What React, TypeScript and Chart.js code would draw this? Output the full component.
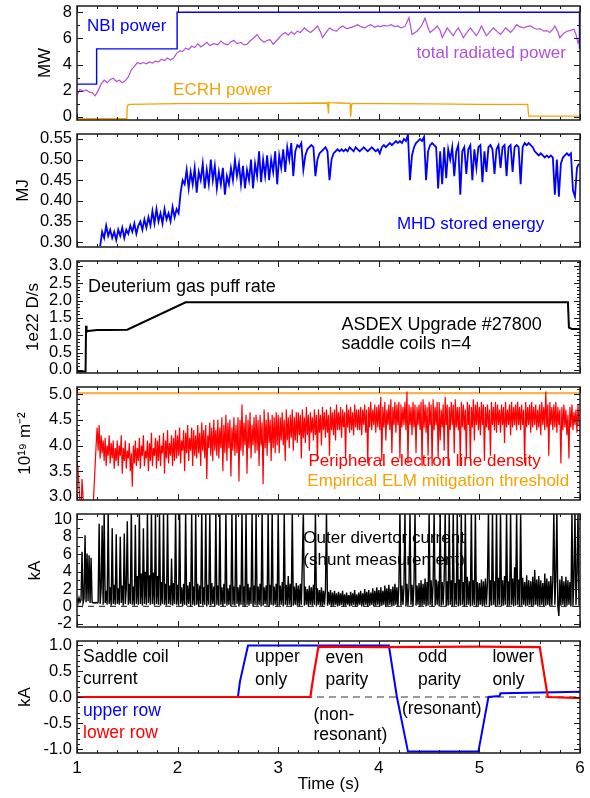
import React, { useEffect, useRef } from 'react';
import { Chart, registerables } from 'chart.js';

Chart.register(...registerables);

const FONT = '"Liberation Sans", Arial, Helvetica, sans-serif';
const BLUE = '#0000ff';
const PURPLE = '#b250d6';
const ORANGE = '#f5a300';
const RED = '#ff0000';
const THRESH = '#f6b452';
const BLACK = '#000000';
const GRAY = '#7a7a7a';

// ---------- shared time axis ----------
const TIME_MIN = 1;
const TIME_MAX = 6;
const timeTicks = [1, 2, 3, 4, 5, 6];
const ROW_START = 1.0; // dense signals: rows of 20 samples, 0.01 s apart
const SAMPLE_STEP = 0.01;
const ROW_LEN = 20;

// ---------- panel 1: heating & radiation (MW) ----------
const p1Ticks = [0, 2, 4, 6, 8];
const nbiTime = [1.0, 1.195, 1.195, 1.995, 1.995, 5.995, 5.995];
const nbiPower = [2.5, 2.5, 5.2, 5.2, 8.0, 8.0, 5.2];
const ecrhTime = [1.0, 1.495, 1.5, 1.52, 2.0, 2.5, 3.0, 3.49, 3.5, 3.505, 3.52, 3.6, 3.715, 3.72, 3.73, 3.74, 4.0, 4.5, 5.0, 5.48, 5.49, 6.0];
const ecrhPower = [-0.15, -0.15, 0.85, 0.95, 1.0, 1.0, 1.02, 1.05, 0.25, 1.1, 1.08, 1.05, 1.02, 0.0, 0.95, 1.0, 1.0, 0.98, 0.95, 0.95, 0.05, 0.05];
const pradSamples = [
  [1.0, 1.6], [1.03, 2.1], [1.06, 1.95], [1.09, 2.05], [1.12, 1.9], [1.15, 1.85], [1.18, 1.6], [1.21, 2.0], [1.24, 2.5], [1.27, 2.8],
  [1.3, 2.6], [1.33, 2.85], [1.36, 2.95], [1.39, 2.7], [1.42, 2.8], [1.45, 2.6], [1.48, 2.75], [1.51, 3.05], [1.54, 3.6], [1.57, 3.85],
  [1.6, 4.15], [1.63, 4.05], [1.66, 4.15], [1.69, 4.05], [1.72, 4.2], [1.75, 4.1], [1.78, 4.25], [1.81, 4.2], [1.84, 4.4], [1.87, 4.3],
  [1.9, 4.5], [1.93, 4.35], [1.96, 4.5], [1.99, 4.85], [2.02, 5.05], [2.05, 5.0], [2.08, 5.25], [2.11, 5.15], [2.14, 5.4], [2.17, 5.3],
  [2.2, 5.6], [2.23, 5.35], [2.26, 5.5], [2.29, 5.7], [2.32, 5.45], [2.36, 5.6], [2.4, 5.5], [2.43, 5.8], [2.46, 5.6], [2.5, 5.5],
  [2.53, 5.75], [2.56, 5.85], [2.59, 5.6], [2.63, 5.7], [2.66, 5.5], [2.69, 5.55], [2.72, 5.8], [2.76, 6.05], [2.79, 6.3], [2.82, 5.95],
  [2.86, 5.7], [2.89, 5.85], [2.92, 5.9], [2.95, 5.55], [2.98, 5.8], [3.01, 6.05], [3.04, 6.3], [3.07, 6.45], [3.1, 6.25], [3.13, 6.5],
  [3.16, 6.3], [3.19, 6.55], [3.22, 6.45], [3.26, 6.8], [3.29, 6.6], [3.32, 6.45], [3.36, 6.7], [3.39, 6.95], [3.42, 6.5], [3.44, 6.05],
  [3.48, 6.5], [3.51, 6.8], [3.55, 6.6], [3.58, 6.55], [3.61, 6.8], [3.64, 6.95], [3.68, 6.75], [3.71, 6.8], [3.75, 6.9], [3.79, 7.05],
  [3.82, 6.9], [3.86, 6.8], [3.89, 6.95], [3.92, 7.05], [3.96, 6.85], [3.99, 6.95], [4.02, 6.9], [4.05, 7.0], [4.09, 6.95], [4.12, 7.05],
  [4.16, 6.9], [4.19, 6.95], [4.22, 6.8], [4.26, 6.9], [4.3, 7.6], [4.33, 6.3], [4.36, 6.45], [4.38, 6.55], [4.42, 6.9], [4.46, 7.55],
  [4.49, 6.8], [4.51, 6.45], [4.55, 6.7], [4.58, 6.95], [4.61, 6.6], [4.63, 6.05], [4.66, 6.5], [4.68, 6.8], [4.71, 6.5], [4.74, 6.2],
  [4.77, 6.6], [4.79, 6.8], [4.82, 6.4], [4.84, 6.05], [4.88, 6.5], [4.91, 6.8], [4.94, 6.5], [4.97, 6.2], [5.0, 6.6], [5.02, 6.95],
  [5.05, 6.5], [5.07, 6.2], [5.11, 6.55], [5.14, 6.8], [5.18, 6.5], [5.21, 6.3], [5.24, 6.6], [5.26, 6.8], [5.29, 6.6], [5.31, 6.45],
  [5.34, 6.7], [5.37, 7.05], [5.4, 6.9], [5.44, 6.8], [5.47, 6.9], [5.51, 6.95], [5.54, 6.8], [5.57, 6.7], [5.6, 6.75], [5.64, 6.55],
  [5.67, 6.6], [5.7, 6.45], [5.73, 6.7], [5.75, 6.95], [5.78, 6.5], [5.8, 6.05], [5.84, 6.4], [5.87, 6.55], [5.9, 6.6], [5.94, 6.7],
  [5.96, 6.3], [5.98, 5.65], [6.0, 6.05],
];

// ---------- panel 2: MHD stored energy (MJ) ----------
const p2Ticks = [0.3, 0.35, 0.4, 0.45, 0.5, 0.55];
const mhdSamples = [
  [1.23, 0.29], [1.25, 0.325], [1.27, 0.31], [1.29, 0.34], [1.31, 0.315], [1.33, 0.33], [1.35, 0.31], [1.37, 0.325], [1.39, 0.305], [1.41, 0.33],
  [1.43, 0.315], [1.45, 0.335], [1.47, 0.31], [1.49, 0.33], [1.51, 0.32], [1.53, 0.34], [1.55, 0.325], [1.57, 0.345], [1.59, 0.32], [1.61, 0.34],
  [1.63, 0.35], [1.65, 0.33], [1.67, 0.355], [1.69, 0.335], [1.71, 0.36], [1.73, 0.34], [1.75, 0.375], [1.77, 0.345], [1.79, 0.38], [1.81, 0.35],
  [1.83, 0.37], [1.85, 0.345], [1.87, 0.38], [1.89, 0.355], [1.91, 0.37], [1.93, 0.35], [1.95, 0.385], [1.97, 0.36], [1.99, 0.38], [2.01, 0.37],
  [2.03, 0.42], [2.05, 0.45], [2.07, 0.44], [2.09, 0.475], [2.11, 0.43], [2.13, 0.47], [2.15, 0.44], [2.17, 0.48], [2.19, 0.42], [2.21, 0.47],
  [2.23, 0.45], [2.25, 0.49], [2.27, 0.43], [2.29, 0.475], [2.31, 0.44], [2.33, 0.5], [2.35, 0.45], [2.37, 0.485], [2.39, 0.43], [2.41, 0.47],
  [2.43, 0.44], [2.45, 0.48], [2.47, 0.415], [2.49, 0.46], [2.51, 0.44], [2.53, 0.48], [2.55, 0.45], [2.57, 0.5], [2.59, 0.46], [2.61, 0.49],
  [2.63, 0.44], [2.65, 0.485], [2.67, 0.43], [2.69, 0.475], [2.71, 0.45], [2.73, 0.5], [2.75, 0.43], [2.77, 0.49], [2.79, 0.46], [2.81, 0.52],
  [2.83, 0.445], [2.85, 0.5], [2.87, 0.46], [2.89, 0.51], [2.91, 0.45], [2.93, 0.5], [2.95, 0.47], [2.97, 0.52], [2.99, 0.44], [3.01, 0.51],
  [3.03, 0.48], [3.05, 0.525], [3.07, 0.47], [3.09, 0.53], [3.11, 0.5], [3.13, 0.54], [3.15, 0.46], [3.17, 0.52], [3.19, 0.535], [3.21, 0.53],
  [3.23, 0.54], [3.25, 0.475], [3.27, 0.51], [3.29, 0.525], [3.31, 0.53], [3.33, 0.535], [3.35, 0.53], [3.37, 0.46], [3.39, 0.5], [3.41, 0.515],
  [3.43, 0.52], [3.45, 0.525], [3.47, 0.53], [3.49, 0.52], [3.51, 0.45], [3.53, 0.5], [3.55, 0.515], [3.57, 0.52], [3.59, 0.525], [3.61, 0.52],
  [3.63, 0.525], [3.65, 0.52], [3.67, 0.525], [3.69, 0.52], [3.71, 0.53], [3.73, 0.525], [3.75, 0.52], [3.77, 0.53], [3.79, 0.525], [3.81, 0.52],
  [3.83, 0.525], [3.85, 0.53], [3.87, 0.525], [3.89, 0.52], [3.91, 0.525], [3.93, 0.53], [3.95, 0.525], [3.97, 0.52], [3.99, 0.525], [4.01, 0.515],
  [4.03, 0.53], [4.05, 0.535], [4.07, 0.53], [4.09, 0.535], [4.11, 0.54], [4.13, 0.535], [4.15, 0.54], [4.17, 0.545], [4.19, 0.54], [4.21, 0.545],
  [4.23, 0.54], [4.25, 0.55], [4.27, 0.545], [4.29, 0.56], [4.31, 0.45], [4.33, 0.51], [4.35, 0.53], [4.37, 0.54], [4.39, 0.545], [4.41, 0.55],
  [4.43, 0.545], [4.45, 0.555], [4.47, 0.45], [4.49, 0.52], [4.51, 0.535], [4.53, 0.54], [4.55, 0.535], [4.57, 0.53], [4.59, 0.43], [4.61, 0.52],
  [4.63, 0.44], [4.65, 0.53], [4.67, 0.455], [4.69, 0.525], [4.71, 0.5], [4.73, 0.53], [4.75, 0.46], [4.77, 0.52], [4.79, 0.535], [4.81, 0.415],
  [4.83, 0.52], [4.85, 0.53], [4.87, 0.465], [4.89, 0.525], [4.91, 0.535], [4.93, 0.45], [4.95, 0.525], [4.97, 0.48], [4.99, 0.53], [5.01, 0.535],
  [5.03, 0.445], [5.05, 0.52], [5.07, 0.47], [5.09, 0.53], [5.11, 0.535], [5.13, 0.525], [5.15, 0.465], [5.17, 0.525], [5.19, 0.535], [5.21, 0.48],
  [5.23, 0.53], [5.25, 0.535], [5.27, 0.46], [5.29, 0.53], [5.31, 0.535], [5.33, 0.47], [5.35, 0.53], [5.37, 0.535], [5.39, 0.53], [5.41, 0.44],
  [5.43, 0.53], [5.45, 0.54], [5.47, 0.535], [5.49, 0.54], [5.51, 0.535], [5.53, 0.53], [5.55, 0.52], [5.57, 0.515], [5.59, 0.51], [5.61, 0.515],
  [5.63, 0.51], [5.65, 0.505], [5.67, 0.51], [5.69, 0.505], [5.71, 0.51], [5.73, 0.505], [5.75, 0.415], [5.77, 0.5], [5.79, 0.41], [5.81, 0.49],
  [5.83, 0.505], [5.85, 0.51], [5.87, 0.515], [5.89, 0.51], [5.91, 0.515], [5.93, 0.425], [5.95, 0.41], [5.97, 0.48], [5.99, 0.49],
];

// ---------- panel 3: gas puff (1e22 D/s) ----------
const p3Ticks = [0, 0.5, 1.0, 1.5, 2.0, 2.5, 3.0];
const gasTime = [1.0, 1.085, 1.09, 1.095, 1.11, 1.2, 1.3, 1.5, 2.08, 3.0, 4.0, 5.0, 5.88, 5.89, 5.92, 6.0];
const gasRate = [-0.05, -0.05, 1.27, 1.1, 1.12, 1.15, 1.15, 1.16, 1.95, 1.95, 1.95, 1.95, 1.95, 1.22, 1.18, 1.18];

// ---------- panel 4: peripheral line density (1e19 m^-2) ----------
const p4Ticks = [3.0, 3.5, 4.0, 4.5, 5.0];
const thresholdTime = [1.0, 6.0];
const thresholdDensity = [5.02, 5.02];
const densityRows = [
  [3.7, 3.55, 3.2, 2.9, 2.7, 3.35, 3.0, 2.6, 2.6, 2.6, 2.6, 2.6, 2.6, 2.6, 2.6, 2.6, 2.8, 3.2, 3.6, 4.0],
  [4.35, 3.9, 4.4, 3.75, 4.2, 3.85, 4.1, 3.7, 4.15, 3.6, 4.0, 3.8, 4.2, 3.65, 4.05, 3.75, 4.1, 3.55, 3.95, 3.7],
  [4.1, 3.6, 4.0, 3.8, 4.2, 3.45, 3.95, 3.7, 4.1, 3.55, 3.9, 3.75, 4.05, 3.5, 3.85, 3.2, 4.0, 3.65, 4.1, 3.6],
  [3.95, 3.7, 4.15, 3.55, 4.0, 3.8, 4.2, 3.6, 3.9, 3.75, 4.1, 3.5, 4.05, 3.7, 4.25, 3.6, 3.95, 3.8, 4.15, 3.55],
  [4.1, 3.7, 4.2, 3.6, 4.0, 3.85, 4.25, 3.45, 4.1, 3.75, 4.3, 3.65, 4.05, 3.8, 4.2, 3.6, 4.15, 3.7, 4.3, 3.75],
  [4.2, 3.8, 4.35, 3.65, 4.1, 3.9, 4.3, 3.5, 4.25, 3.85, 4.4, 3.7, 4.15, 3.9, 4.35, 3.6, 4.3, 3.8, 4.2, 3.75],
  [4.4, 3.85, 4.25, 3.6, 4.45, 3.9, 4.3, 3.75, 4.4, 3.35, 4.2, 3.95, 4.45, 3.8, 4.35, 3.7, 4.5, 3.9, 4.3, 3.8],
  [4.5, 3.75, 4.35, 3.95, 4.55, 3.5, 4.4, 3.85, 4.6, 3.7, 4.45, 3.95, 4.5, 3.4, 4.35, 3.9, 4.55, 3.8, 4.4, 3.85],
  [4.55, 3.3, 4.5, 3.9, 4.8, 3.8, 4.45, 4.0, 4.6, 3.45, 4.5, 3.95, 4.65, 3.75, 4.4, 4.0, 4.55, 3.85, 4.6, 3.9],
  [4.5, 3.6, 4.6, 4.0, 4.45, 3.25, 4.7, 3.95, 4.5, 3.8, 4.65, 4.05, 4.5, 3.7, 4.6, 3.95, 4.55, 3.85, 4.65, 4.0],
  [4.6, 3.85, 4.55, 4.1, 4.65, 4.0, 4.5, 3.7, 4.7, 4.1, 4.55, 3.95, 4.6, 4.15, 4.7, 3.9, 4.55, 4.1, 4.65, 4.05],
  [4.65, 4.2, 4.6, 3.75, 4.7, 4.15, 4.55, 4.05, 4.75, 4.2, 4.6, 3.9, 4.65, 4.25, 4.55, 4.1, 4.7, 4.2, 4.6, 3.7],
  [4.7, 4.25, 4.6, 4.0, 4.75, 4.3, 4.65, 4.15, 4.7, 4.25, 4.6, 3.8, 4.75, 4.3, 4.65, 4.2, 4.7, 4.1, 4.8, 4.3],
  [4.65, 4.3, 4.75, 4.15, 4.7, 4.35, 4.65, 3.75, 4.8, 4.35, 4.7, 4.25, 4.75, 4.3, 4.65, 4.2, 4.8, 4.35, 4.7, 4.3],
  [4.7, 4.3, 4.75, 4.2, 4.7, 4.4, 4.8, 4.25, 4.7, 3.65, 4.75, 4.35, 4.85, 4.3, 4.7, 4.4, 4.8, 4.25, 4.75, 4.35],
  [4.8, 4.3, 4.95, 3.7, 4.75, 4.35, 4.85, 4.1, 4.7, 4.4, 4.8, 4.3, 4.9, 3.85, 4.75, 4.4, 4.85, 4.25, 4.8, 4.4],
  [4.85, 3.75, 4.8, 4.35, 4.75, 4.4, 4.85, 4.3, 5.05, 3.65, 4.8, 4.4, 4.75, 4.2, 4.85, 4.35, 4.8, 3.85, 4.75, 4.4],
  [4.8, 4.3, 4.85, 3.6, 4.9, 4.35, 4.8, 4.25, 4.75, 3.8, 4.85, 4.4, 4.8, 3.6, 4.9, 4.3, 4.75, 4.4, 4.85, 3.75],
  [4.85, 4.1, 4.7, 4.35, 4.8, 3.9, 4.95, 4.4, 4.8, 3.6, 4.75, 4.3, 4.85, 4.4, 4.8, 3.85, 4.9, 4.35, 4.75, 4.3],
  [4.75, 3.6, 4.85, 4.35, 4.8, 4.3, 4.7, 3.75, 4.85, 4.4, 4.8, 3.7, 4.75, 4.35, 4.9, 4.1, 4.8, 4.4, 4.85, 4.3],
  [4.75, 4.2, 4.85, 4.4, 4.8, 3.7, 4.75, 4.35, 4.8, 4.3, 4.7, 3.8, 4.85, 4.4, 4.75, 4.3, 4.85, 4.25, 4.8, 4.4],
  [4.7, 4.25, 4.8, 4.4, 4.75, 4.05, 4.85, 4.35, 4.7, 4.4, 4.8, 4.2, 4.85, 4.35, 4.75, 4.4, 4.8, 4.3, 4.85, 4.4],
  [4.75, 4.3, 4.8, 4.4, 4.7, 3.65, 4.85, 4.35, 4.75, 4.4, 4.8, 4.25, 4.85, 4.35, 4.75, 4.4, 4.8, 4.3, 4.7, 4.35],
  [4.8, 4.2, 4.85, 4.4, 4.75, 4.3, 5.05, 4.35, 4.8, 3.8, 4.85, 4.4, 4.75, 4.3, 4.8, 4.35, 4.85, 4.25, 4.75, 4.4],
  [4.7, 3.65, 4.75, 4.3, 4.8, 4.35, 4.7, 4.2, 4.6, 3.75, 4.75, 4.35, 4.8, 4.3, 4.65, 4.4, 4.7, 4.25, 4.8, 4.4],
];

// ---------- panel 5: outer divertor current (kA) ----------
const p5Ticks = [-2, 0, 2, 4, 6, 8, 10];
const divertorRows = [
  [0.9, 0.4, 1.0, 0.5, 0.8, 6.3, 0.4, 0.9, 8.2, 0.5, 6.1, 0.6, 5.9, 0.4, 5.6, 0.5, 0.4, 0.45, 0.4, 0.45],
  [0.4, 0.45, 9.5, 0.3, 2.0, 9.3, 0.2, 11, 0.4, 1.8, 0.2, 11, 0.3, 2.2, 0.1, 9.0, 0.3, 2.5, 0.2, 8.3],
  [0.3, 2.1, 0.2, 8.0, 0.4, 2.4, 0.1, 8.4, 0.3, 2.0, 9.8, 0.2, 2.6, 0.3, 11, 0.2, 2.3, 0.1, 9.4, 0.3],
  [3.5, 0.2, 11, 0.3, 3.8, 0.1, 9.0, 0.3, 4.0, 0.2, 11, 0.4, 3.6, 0.2, 11, 0.3, 3.9, 0.1, 11, 0.3],
  [3.5, 0.2, 11, 0.1, 2.8, 0.3, 11, 0.2, 2.6, 0.1, 11, 0.3, 2.4, 0.2, 5.5, 0.1, 2.7, 0.3, 11, 0.2],
  [2.5, 0.1, 11, 0.3, 2.2, 0.0, 2.6, 0.2, 11, 0.1, 2.4, 0.3, 2.8, 0.0, 11, 0.2, 2.3, 0.1, 11, 0.2],
  [2.6, 0.0, 2.4, 0.3, 11, 0.1, 2.2, 0.2, 11, 0.0, 2.5, 0.2, 11, 0.1, 2.7, 0.3, 2.3, 0.0, 11, 0.2],
  [2.4, 0.1, 11, 0.2, 2.2, 0.0, 2.6, 0.3, 11, 0.1, 2.1, 0.2, 2.5, 0.0, 11, 0.2, 2.3, 0.1, 11, 0.3],
  [2.2, 0.0, 2.5, 0.2, 11, 0.1, 2.3, 0.0, 11, 0.2, 2.6, 0.1, 2.2, 0.3, 11, 0.0, 2.4, 0.2, 11, 0.1],
  [2.3, 0.2, 2.6, 0.0, 11, 0.1, 2.2, 0.3, 2.4, 0.1, 11, 0.0, 2.5, 0.2, 11, 0.1, 2.3, 0.2, 2.6, 0.0],
  [11, 0.1, 2.4, 0.2, 2.8, 0.0, 11, 0.2, 2.5, 0.1, 3.5, 0.2, 2.6, 0.0, 11, 0.1, 2.3, 0.2, 2.7, 0.1],
  [2.4, 0.0, 2.6, 0.2, 5.0, 11, 0.1, 2.3, 0.2, 2.0, 0.0, 2.4, 0.2, 2.2, 0.1, 2.5, 0.2, 11, 0.0, 2.1],
  [0.2, 1.9, 0.1, 2.2, 0.0, 1.8, 0.2, 2.0, 11, 0.1, 1.7, 0.2, 1.9, 0.0, 1.6, 0.1, 1.8, 0.2, 1.5, 0.0],
  [1.7, 0.1, 1.5, 0.2, 1.8, 0.0, 1.4, 0.1, 1.6, 0.2, 1.3, 0.0, 1.7, 0.1, 1.5, 0.2, 1.9, 0.0, 1.4, 0.1],
  [1.6, 0.2, 1.8, 0.0, 1.5, 0.1, 2.0, 0.2, 1.7, 0.0, 1.9, 0.1, 1.6, 0.2, 2.1, 0.0, 1.8, 0.1, 2.2, 0.2],
  [1.9, 0.0, 2.2, 0.1, 1.8, 0.2, 2.4, 0.0, 2.1, 0.1, 2.5, 0.2, 2.0, 0.0, 2.3, 0.1, 2.6, 0.2, 2.2, 0.0],
  [2.5, 11, 0.1, 2.4, 0.2, 2.2, 11, 0.0, 2.6, 0.1, 2.3, 11, 0.2, 2.5, 0.0, 2.8, 11, 0.1, 2.4, 0.2],
  [2.7, 0.0, 3.0, 0.1, 2.6, 0.2, 3.2, 0.0, 2.8, 0.1, 11, 0.2, 3.0, 0.0, 2.7, 11, 0.1, 3.1, 0.2, 2.9],
  [0.0, 11, 0.1, 2.8, 0.2, 3.2, 11, 0.0, 2.9, 0.1, 11, 0.2, 3.0, 0.0, 11, 0.1, 2.7, 0.2, 11, 0.0],
  [3.1, 0.1, 11, 0.2, 2.8, 0.0, 11, 0.1, 3.4, 0.2, 2.9, 0.0, 11, 0.1, 3.0, 0.2, 11, 0.0, 2.8, 0.1],
  [2.7, 0.2, 3.1, 0.0, 2.9, 0.1, 3.2, 0.2, 2.8, 11, 0.0, 3.0, 0.1, 11, 0.2, 2.9, 0.0, 11, 0.1, 3.3],
  [0.2, 11, 0.0, 3.0, 0.1, 3.5, 0.2, 11, 0.0, 2.9, 0.1, 11, 0.2, 3.2, 0.0, 4.5, 0.1, 11, 0.2, 3.1],
  [0.0, 11, 0.1, 3.3, 0.2, 2.8, 0.0, 3.6, 0.1, 3.0, 0.2, 2.9, 0.0, 3.4, 0.1, 4.2, 0.2, 3.1, 0.0, 3.5],
  [0.1, 3.0, 0.2, 2.7, 0.0, 3.8, 0.1, 3.2, 0.2, 2.9, 0.0, 3.5, 0.1, 3.1, 11, 0.2, 3.3, 11, 0.0, -1.1],
  [3.1, 0.1, 3.5, 0.2, 2.9, 0.0, 3.4, 0.1, 3.0, 0.2, 2.8, 0.0, 11, 0.1, 3.2, 11, 0.2, 3.6, 11, 0.1],
];

// ---------- panel 6: saddle coil currents (kA) ----------
const p6Ticks = [-1.0, -0.5, 0.0, 0.5, 1.0];
const upperTime = [1.0, 2.6, 2.62, 2.7, 3.0, 3.5, 4.1, 4.18, 4.29, 4.6, 4.99, 5.09, 5.2, 5.21, 5.5, 6.0];
const upperCurrent = [0.0, 0.0, 0.3, 0.99, 0.99, 0.99, 0.99, 0.0, -1.05, -1.05, -1.05, 0.0, 0.02, 0.07, 0.08, 0.1];
const lowerTime = [1.0, 3.32, 3.35, 3.4, 4.0, 5.0, 5.6, 5.68, 6.0];
const lowerCurrent = [0.0, 0.0, 0.4, 0.97, 0.96, 0.97, 0.96, 0.0, -0.02];
const zeroTime = [1.0, 6.0];
const zeroLevel = [0, 0];

// ---------- annotation texts ----------
const p1Labels = [
  { text: 'NBI power', t: 1.1, v: 6.92, color: BLUE, align: 'left' },
  { text: 'total radiated power', t: 5.86, v: 4.85, color: PURPLE, align: 'right' },
  { text: 'ECRH power', t: 1.955, v: 2.0, color: ORANGE, align: 'left' },
];
const p2Labels = [{ text: 'MHD stored energy', t: 4.18, v: 0.344, color: BLUE, align: 'left' }];
const p3Labels = [
  { text: 'Deuterium gas puff rate', t: 1.11, v: 2.39, color: BLACK, align: 'left' },
  { text: 'ASDEX Upgrade #27800', t: 3.63, v: 1.3, color: BLACK, align: 'left' },
  { text: 'saddle coils n=4', t: 3.63, v: 0.75, color: BLACK, align: 'left' },
];
const p4Labels = [
  { text: 'Peripheral electron line density', t: 3.3, v: 3.7, color: RED, align: 'left' },
  { text: 'Empirical ELM mitigation threshold', t: 3.29, v: 3.31, color: ORANGE, align: 'left' },
];
const p5Labels = [
  { text: 'Outer divertor current', t: 3.25, v: 7.87, color: BLACK, align: 'left' },
  { text: '(shunt measurement)', t: 3.25, v: 5.34, color: BLACK, align: 'left' },
];
const p6Labels = [
  { text: 'Saddle coil', t: 1.06, v: 0.77, color: BLACK, align: 'left' },
  { text: 'current', t: 1.06, v: 0.35, color: BLACK, align: 'left' },
  { text: 'upper row', t: 1.06, v: -0.27, color: BLUE, align: 'left' },
  { text: 'lower row', t: 1.06, v: -0.69, color: RED, align: 'left' },
  { text: 'upper', t: 2.77, v: 0.77, color: BLACK, align: 'left' },
  { text: 'only', t: 2.77, v: 0.33, color: BLACK, align: 'left' },
  { text: 'even', t: 3.47, v: 0.75, color: BLACK, align: 'left' },
  { text: 'parity', t: 3.47, v: 0.33, color: BLACK, align: 'left' },
  { text: 'odd', t: 4.39, v: 0.77, color: BLACK, align: 'left' },
  { text: 'parity', t: 4.39, v: 0.33, color: BLACK, align: 'left' },
  { text: 'lower', t: 5.13, v: 0.77, color: BLACK, align: 'left' },
  { text: 'only', t: 5.13, v: 0.33, color: BLACK, align: 'left' },
  { text: '(non-', t: 3.35, v: -0.35, color: BLACK, align: 'left' },
  { text: 'resonant)', t: 3.35, v: -0.73, color: BLACK, align: 'left' },
  { text: '(resonant)', t: 4.23, v: -0.23, color: BLACK, align: 'left' },
];

// ---------- helpers ----------
const zipPoints = (xs: number[], ys: number[]) => xs.map((x, i) => ({ x, y: ys[i] }));
const pairPoints = (pairs: number[][]) => pairs.map(([x, y]) => ({ x, y }));
const rowPoints = (rows: number[][]) => {
  const pts: { x: number; y: number }[] = [];
  rows.forEach((row, r) =>
    row.forEach((y, i) => pts.push({ x: +(ROW_START + (r * ROW_LEN + i) * SAMPLE_STEP).toFixed(4), y }))
  );
  return pts;
};

const framePlugin = {
  id: 'frame',
  afterDatasetsDraw(chart: any, _args: any, opts: any) {
    const { ctx, chartArea: a, scales } = chart;
    const xs = scales.x;
    const ys = scales.y;
    ctx.save();
    ctx.strokeStyle = '#1a1a1a';
    ctx.lineWidth = 1;
    const seg = (x1: number, y1: number, x2: number, y2: number) => {
      ctx.beginPath();
      ctx.moveTo(x1, y1);
      ctx.lineTo(x2, y2);
      ctx.stroke();
    };
    const nX = Math.round((TIME_MAX - TIME_MIN) / 0.2);
    for (let i = 0; i <= nX; i++) {
      const v = TIME_MIN + i * 0.2;
      const px = Math.round(xs.getPixelForValue(v)) + 0.5;
      const len = i % 5 === 0 ? 6 : 3;
      seg(px, a.bottom, px, a.bottom - len);
      seg(px, a.top, px, a.top + len);
    }
    const minor = opts.minor;
    const start = Math.ceil((ys.min - 1e-9) / minor);
    const end = Math.floor((ys.max + 1e-9) / minor);
    for (let k = start; k <= end; k++) {
      const v = k * minor;
      const isMajor = opts.major.some((m: number) => Math.abs(m - v) < 1e-6);
      const py = Math.round(ys.getPixelForValue(v)) + 0.5;
      const len = isMajor ? 6 : 3;
      seg(a.left, py, a.left + len, py);
      seg(a.right, py, a.right - len, py);
    }
    ctx.lineWidth = 1.5;
    ctx.strokeRect(a.left, a.top, a.right - a.left, a.bottom - a.top);
    ctx.restore();
  },
};

const textPlugin = {
  id: 'notes',
  beforeDatasetsDraw(chart: any, _args: any, opts: any) {
    const { ctx, scales } = chart;
    ctx.save();
    ctx.font = `${opts.size}px ${FONT}`;
    ctx.textBaseline = 'middle';
    for (const l of opts.labels) {
      ctx.fillStyle = l.color;
      ctx.textAlign = l.align;
      ctx.fillText(l.text, scales.x.getPixelForValue(l.t), scales.y.getPixelForValue(l.v));
    }
    ctx.restore();
  },
};

type Series = { points: { x: number; y: number }[]; color: string; width: number; dash?: number[] };
type PanelCfg = {
  top: number; bottom: number; yMin: number; yMax: number; ticks: number[]; decimals: number; minor: number;
  title: string; titleX: number; labels: any[]; labelSize: number; series: Series[]; showX?: boolean;
};

const panels: PanelCfg[] = [
  {
    top: 6, bottom: 120, yMin: -0.25, yMax: 8.48, ticks: p1Ticks, decimals: 0, minor: 1,
    title: 'MW', titleX: 45, labels: p1Labels, labelSize: 17,
    series: [
      { points: zipPoints(nbiTime, nbiPower), color: BLUE, width: 1.4 },
      { points: pairPoints(pradSamples), color: PURPLE, width: 1.2 },
      { points: zipPoints(ecrhTime, ecrhPower), color: ORANGE, width: 1.3 },
    ],
  },
  {
    top: 134, bottom: 247, yMin: 0.288, yMax: 0.562, ticks: p2Ticks, decimals: 2, minor: 0.05,
    title: 'MJ', titleX: 23, labels: p2Labels, labelSize: 17,
    series: [{ points: pairPoints(mhdSamples), color: BLUE, width: 1.8 }],
  },
  {
    top: 261, bottom: 373, yMin: -0.09, yMax: 3.14, ticks: p3Ticks, decimals: 1, minor: 0.1,
    title: '1e22 D/s', titleX: 33, labels: p3Labels, labelSize: 18,
    series: [{ points: zipPoints(gasTime, gasRate), color: BLACK, width: 2 }],
  },
  {
    top: 387, bottom: 500, yMin: 2.94, yMax: 5.14, ticks: p4Ticks, decimals: 1, minor: 0.1,
    title: '10\u00B9\u2079 m\u207B\u00B2', titleX: 25, labels: p4Labels, labelSize: 17,
    series: [
      { points: rowPoints(densityRows), color: RED, width: 1.2 },
      { points: zipPoints(thresholdTime, thresholdDensity), color: THRESH, width: 2.2 },
    ],
  },
  {
    top: 514, bottom: 627, yMin: -2.36, yMax: 10.63, ticks: p5Ticks, decimals: 0, minor: 1,
    title: 'kA', titleX: 35, labels: p5Labels, labelSize: 17,
    series: [
      { points: rowPoints(divertorRows), color: BLACK, width: 1.4 },
      { points: zipPoints(zeroTime, zeroLevel), color: '#444444', width: 1.2, dash: [6, 5] },
    ],
  },
  {
    top: 641, bottom: 753, yMin: -1.077, yMax: 1.077, ticks: p6Ticks, decimals: 1, minor: 0.1,
    title: 'kA', titleX: 25, labels: p6Labels, labelSize: 17.5, showX: true,
    series: [
      { points: zipPoints(lowerTime, lowerCurrent), color: RED, width: 2.2 },
      { points: zipPoints(upperTime, upperCurrent), color: BLUE, width: 2 },
      { points: zipPoints(zeroTime, zeroLevel), color: GRAY, width: 1.4, dash: [7, 5] },
    ],
  },
];

const PAD = 20;
const PAGE_H = 798;
const X_AXIS_H = 45;

function Panel({ cfg }: { cfg: PanelCfg }) {
  const ref = useRef<HTMLCanvasElement | null>(null);
  const canvasTop = cfg.top - PAD;
  const canvasH = cfg.showX ? PAGE_H - canvasTop : cfg.bottom - cfg.top + 2 * PAD;

  useEffect(() => {
    if (!ref.current) return;
    const chart = new Chart(ref.current, {
      type: 'line',
      data: {
        datasets: cfg.series.map((s) => ({
          data: s.points,
          borderColor: s.color,
          borderWidth: s.width,
          borderDash: s.dash || [],
          pointRadius: 0,
          tension: 0,
          fill: false,
        })),
      },
      options: {
        animation: false,
        responsive: false,
        events: [],
        layout: { padding: { top: PAD, bottom: cfg.showX ? 0 : PAD, left: 0, right: 10 } },
        plugins: {
          legend: { display: false },
          tooltip: { enabled: false },
          frame: { major: cfg.ticks, minor: cfg.minor },
          notes: { labels: cfg.labels, size: cfg.labelSize },
        } as any,
        scales: {
          x: {
            type: 'linear',
            min: TIME_MIN,
            max: TIME_MAX,
            display: !!cfg.showX,
            afterBuildTicks: (s: any) => {
              s.ticks = timeTicks.map((v) => ({ value: v }));
            },
            afterFit: (s: any) => {
              s.height = cfg.showX ? X_AXIS_H : 0;
            },
            grid: { display: false, drawTicks: false },
            border: { display: false },
            ticks: { color: '#000', autoSkip: false, font: { family: FONT, size: 17 }, padding: 5, maxRotation: 0, callback: (v: any) => String(v) },
            title: { display: true, text: 'Time (s)', color: '#000', font: { family: FONT, size: 17 }, padding: { top: 0, bottom: 3 } },
          },
          y: {
            type: 'linear',
            min: cfg.yMin,
            max: cfg.yMax,
            afterBuildTicks: (s: any) => {
              s.ticks = cfg.ticks.map((v) => ({ value: v }));
            },
            afterFit: (s: any) => {
              s.width = 77;
            },
            grid: { display: false, drawTicks: false },
            border: { display: false },
            ticks: { color: '#000', autoSkip: false, font: { family: FONT, size: 16.5 }, padding: 5, callback: (v: any) => Number(v).toFixed(cfg.decimals) },
            title: { display: true, text: cfg.title, color: '#000', font: { family: FONT, size: 17 }, padding: { top: cfg.titleX - 10.2, bottom: 0 } },
          },
        },
      } as any,
      plugins: [framePlugin, textPlugin],
    } as any);
    return () => chart.destroy();
  }, []);

  return (
    <canvas
      ref={ref}
      width={590}
      height={canvasH}
      style={{ position: 'absolute', left: 0, top: canvasTop, width: 590, height: canvasH }}
    />
  );
}

export default function App() {
  return (
    <div style={{ position: 'absolute', left: 0, top: 0, width: 590, height: PAGE_H, overflow: 'hidden', background: '#fff' }}>
      {panels.map((p, i) => (
        <Panel key={i} cfg={p} />
      ))}
    </div>
  );
}
